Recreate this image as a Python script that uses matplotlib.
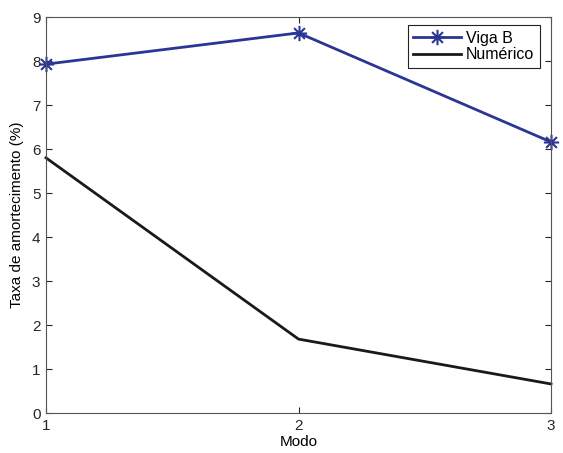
import numpy as np
import matplotlib
matplotlib.use("Agg")
import matplotlib.pyplot as plt
from matplotlib.path import Path

plt.rcParams['font.family'] = ['Liberation Sans', 'DejaVu Sans']

modo = [1, 2, 3]
viga_b = [7.93, 8.64, 6.16]
numerico = [5.80, 1.68, 0.66]

# MATLAB style asterisk: 8 arms
d = 0.7071
asterisk = Path([(-1, 0), (1, 0), (0, -1), (0, 1), (-d, -d), (d, d), (-d, d), (d, -d)],
                [Path.MOVETO, Path.LINETO] * 4)

fig = plt.figure(figsize=(5.63, 4.53), dpi=100)
ax = fig.add_axes([0.0817, 0.0883, 0.897, 0.874])

ax.plot(modo, viga_b, color="#2b3595", linewidth=2, marker=asterisk, markersize=11,
        markeredgewidth=1.5, label="Viga B", clip_on=False)
ax.plot(modo, numerico, color="#1a1a1a", linewidth=2, label="Numérico", clip_on=False)

ax.set_xlim(1, 3)
ax.set_ylim(0, 9)
ax.set_xticks([1, 2, 3])
ax.set_yticks(range(0, 10))
ax.tick_params(direction="in", length=4, labelsize=11, colors="#262626", top=True, right=True,
               labeltop=False, labelright=False, pad=4)
for s in ax.spines.values():
    s.set_color("#555555")

ax.set_xlabel("Modo", fontsize=11, labelpad=2)
ax.set_ylabel("Taxa de amortecimento (%)", fontsize=11, labelpad=6)

leg = ax.legend(loc="upper right", bbox_to_anchor=(0.978, 0.98), fontsize=11.5,
                fancybox=False, edgecolor="#222222", framealpha=1, handlelength=3.0,
                borderpad=0.35, labelspacing=0.1, handletextpad=0.3, borderaxespad=0)
leg.get_frame().set_linewidth(0.8)

fig.savefig("out.png", dpi=100)
